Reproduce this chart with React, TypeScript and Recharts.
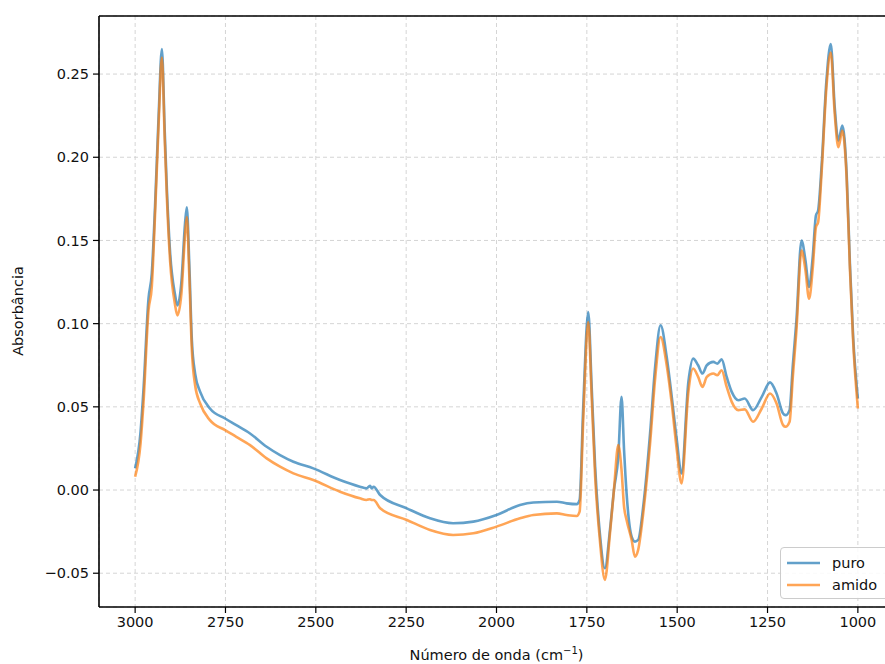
import React from "react";
import {
  LineChart,
  Line,
  XAxis,
  YAxis,
  CartesianGrid,
  ReferenceLine,
} from "recharts";

const WAVENUMBERS = [
  3000, 2985, 2977, 2963, 2954, 2945, 2935, 2926, 2918, 2912, 2903, 2890, 2883,
  2872, 2862, 2857, 2850, 2843, 2834, 2820, 2793, 2751, 2720, 2682, 2636, 2599,
  2562, 2507, 2433, 2378, 2360, 2350, 2345, 2340, 2322, 2248, 2184, 2120, 2064,
  2000, 1935, 1898, 1833, 1806, 1778, 1770, 1760, 1746, 1737, 1727, 1714, 1700,
  1686, 1675, 1663, 1654, 1647, 1640, 1626, 1617, 1608, 1594, 1575, 1561, 1546,
  1529, 1515, 1501, 1488, 1469, 1456, 1442, 1430, 1418, 1400, 1389, 1377, 1363,
  1349, 1331, 1313, 1290, 1266, 1243, 1225, 1207, 1200, 1189, 1180, 1170, 1156,
  1145, 1135, 1125, 1116, 1110, 1100, 1087, 1075, 1064, 1054, 1043, 1031, 1022,
  1013, 1000,
];

const PURO = [
  0.013, 0.035, 0.06, 0.115, 0.13, 0.17, 0.225, 0.265, 0.215, 0.18, 0.142, 0.118,
  0.111, 0.125, 0.16, 0.17, 0.135, 0.09, 0.07, 0.059, 0.049, 0.043, 0.039, 0.034,
  0.026, 0.021, 0.017, 0.013, 0.006, 0.002, 0.001, 0.0025, 0.001, 0.002, -0.003,
  -0.011, -0.017, -0.02, -0.019, -0.015, -0.009, -0.0075, -0.007, -0.008,
  -0.0085, -0.006, 0.05, 0.107, 0.064, 0.014, -0.026, -0.047, -0.024, 0.0, 0.02,
  0.056, 0.024, -0.002, -0.028, -0.031, -0.03, -0.01, 0.034, 0.074, 0.099, 0.08,
  0.056, 0.03, 0.01, 0.065, 0.079, 0.075, 0.07, 0.075, 0.077, 0.076, 0.0785,
  0.068, 0.059, 0.054, 0.055, 0.048, 0.056, 0.0647, 0.058, 0.046, 0.045, 0.048,
  0.075, 0.102, 0.15, 0.138, 0.122, 0.14, 0.165, 0.168, 0.196, 0.246, 0.268,
  0.23, 0.21, 0.219, 0.19, 0.136, 0.092, 0.055,
];

const AMIDO = [
  0.008, 0.028, 0.052, 0.108, 0.122, 0.165, 0.22, 0.26, 0.21, 0.175, 0.137,
  0.112, 0.105, 0.118, 0.153, 0.164, 0.128, 0.084, 0.063, 0.052, 0.042, 0.036,
  0.032, 0.027, 0.019, 0.014, 0.01, 0.006, -0.001, -0.005, -0.006, -0.0055,
  -0.006, -0.006, -0.011, -0.018, -0.024, -0.027, -0.026, -0.022, -0.017,
  -0.015, -0.014, -0.015, -0.0156, -0.013, 0.042, 0.101, 0.058, 0.008, -0.03,
  -0.054, -0.026, 0.0, 0.027, 0.012, -0.01, -0.018, -0.03, -0.04, -0.036,
  -0.014, 0.028, 0.067, 0.092, 0.075, 0.052, 0.024, 0.004, 0.059, 0.073, 0.068,
  0.062, 0.068, 0.07, 0.069, 0.072, 0.062, 0.053, 0.048, 0.0485, 0.041, 0.049,
  0.058, 0.052, 0.039, 0.038, 0.041, 0.068, 0.096, 0.144, 0.132, 0.115, 0.133,
  0.158, 0.161, 0.192, 0.242, 0.263, 0.226, 0.206, 0.216, 0.187, 0.133, 0.089,
  0.049,
];

const X_TICKS = [3000, 2750, 2500, 2250, 2000, 1750, 1500, 1250, 1000];
const Y_TICKS = [-0.05, 0, 0.05, 0.1, 0.15, 0.2, 0.25];
const SERIES_NAMES = ["puro", "amido"];
const Y_DOMAIN = [-0.0703, 0.2849];
const X_DOMAIN = [900, 3100];

const data = WAVENUMBERS.map((wn, i) => ({
  wn,
  puro: PURO[i],
  amido: AMIDO[i],
}));

const FONT = "'DejaVu Sans', sans-serif";
const FS = 14.5;
const BLUE = "#1f77b4";
const ORANGE = "#ff7f0e";

const fmtY = (v: number) =>
  v < 0 ? "\u2212" + Math.abs(v).toFixed(2) : v.toFixed(2);

export default function App() {
  return (
    <div
      style={{
        position: "fixed",
        left: 0,
        top: 0,
        width: 885,
        height: 664,
        overflow: "hidden",
        background: "#fff",
        fontFamily: FONT,
      }}
    >
      <LineChart
        width={900}
        height={664}
        data={data}
        margin={{ top: 16, right: 6, left: 0, bottom: 0 }}
      >
        <CartesianGrid
          stroke="#d0d0d0"
          strokeDasharray="4 3"
          strokeWidth={0.9}
        />
        <XAxis
          dataKey="wn"
          type="number"
          domain={X_DOMAIN}
          reversed
          allowDataOverflow
          ticks={X_TICKS}
          interval={0}
          height={57}
          tickSize={6}
          tickMargin={4}
          axisLine={{ stroke: "#000", strokeWidth: 1.6 }}
          tickLine={{ stroke: "#000", strokeWidth: 1.2 }}
          tick={{ fill: "#111", fontSize: FS, fontFamily: FONT }}
          label={{
            content: () => (
              <text
                x={496.5}
                y={660}
                textAnchor="middle"
                fill="#111"
                fontSize={FS}
                fontFamily={FONT}
              >
                Número de onda (cm
                <tspan dy={-6} fontSize={10}>
                  {"\u22121"}
                </tspan>
                <tspan dy={6}>)</tspan>
              </text>
            ),
          }}
        />
        <YAxis
          type="number"
          domain={Y_DOMAIN}
          allowDataOverflow
          ticks={Y_TICKS}
          interval={0}
          width={99}
          tickSize={6}
          tickMargin={4}
          tickFormatter={fmtY}
          axisLine={{ stroke: "#000", strokeWidth: 1.6 }}
          tickLine={{ stroke: "#000", strokeWidth: 1.2 }}
          tick={{ fill: "#111", fontSize: FS, fontFamily: FONT }}
          label={{
            content: () => (
              <text
                x={23}
                y={311}
                transform="rotate(-90 23 311)"
                textAnchor="middle"
                fill="#111"
                fontSize={FS}
                fontFamily={FONT}
              >
                Absorbância
              </text>
            ),
          }}
        />
        <ReferenceLine
          y={Y_DOMAIN[1]}
          stroke="#000"
          strokeWidth={1.6}
          ifOverflow="visible"
        />
        <Line
          type="monotone"
          dataKey="puro"
          name={SERIES_NAMES[0]}
          stroke={BLUE}
          strokeOpacity={0.7}
          strokeWidth={2.6}
          dot={false}
          isAnimationActive={false}
        />
        <Line
          type="monotone"
          dataKey="amido"
          name={SERIES_NAMES[1]}
          stroke={ORANGE}
          strokeOpacity={0.7}
          strokeWidth={2.6}
          dot={false}
          isAnimationActive={false}
        />
      </LineChart>
      <div
        style={{
          position: "absolute",
          left: 780,
          top: 547,
          width: 110,
          height: 52,
          border: "1px solid #cccccc",
          borderRadius: 4,
          background: "rgba(255,255,255,0.85)",
          boxSizing: "border-box",
        }}
      >
        <svg
          width={40}
          height={50}
          style={{ position: "absolute", left: 5, top: 0 }}
        >
          <line
            x1={1}
            x2={34}
            y1={15}
            y2={15}
            stroke={BLUE}
            strokeOpacity={0.7}
            strokeWidth={2.6}
          />
          <line
            x1={1}
            x2={34}
            y1={37}
            y2={37}
            stroke={ORANGE}
            strokeOpacity={0.7}
            strokeWidth={2.6}
          />
        </svg>
        {SERIES_NAMES.map((n, i) => (
          <div
            key={n}
            style={{
              position: "absolute",
              left: 51,
              top: 15 + i * 22 - 10,
              height: 20,
              lineHeight: "20px",
              fontSize: FS,
              color: "#111",
              fontFamily: FONT,
            }}
          >
            {n}
          </div>
        ))}
      </div>
    </div>
  );
}
